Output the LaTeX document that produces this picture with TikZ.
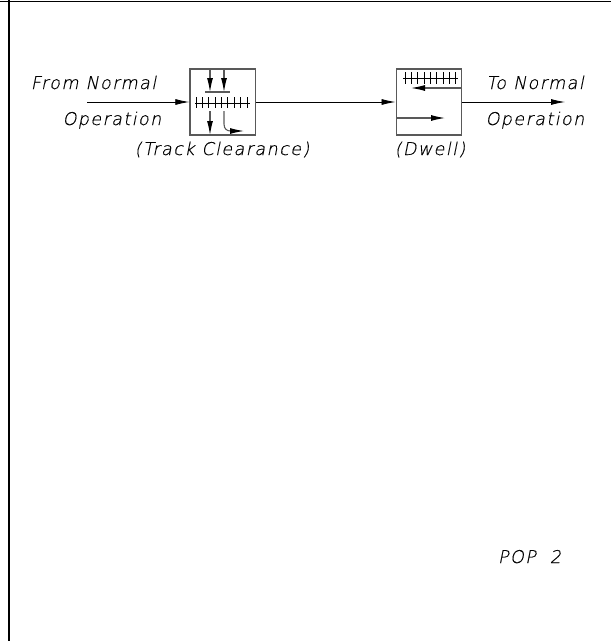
\documentclass[tikz,border=0pt]{standalone}
\usepackage{fontspec}
\setmainfont{Liberation Sans}
\newfontfamily\labelfont[LetterSpace=8,FakeSlant=0.2,FakeBold=0.35]{DejaVu Sans ExtraLight}
\usetikzlibrary{arrows.meta}

\begin{document}
\begin{tikzpicture}[x=.03cm,y=-.03cm,
    flow/.style={-{Latex[length=.42cm,width=.18cm]},line width=.7pt},
    inner/.style={-{Latex[length=.42cm,width=.18cm,color=black]},line width=.95pt,black!65},
    statebox/.style={draw=black!65,line width=1pt,minimum width=1.97cm,minimum height=1.98cm,inner sep=0pt},
    lab/.style={inner sep=0pt,font=\labelfont\fontsize{15}{16}\selectfont,anchor=base}]

    \useasboundingbox (0,0) rectangle (611,641);

    % Page frame
    \draw[line width=.9pt] (0,1.2) -- (611,1.2);
    \draw[line width=.9pt] (9,0) -- (9,641);

    % The two states
    \node[statebox] (clear) at (222.75,102) {};
    \node[statebox] (dwell) at (429,102) {};

    % Free ends of the main line
    \coordinate (start) at (87,102);
    \coordinate (finish) at (565,102);

    \draw[flow] (start) -- (clear);
    \draw[flow] (clear) -- (dwell);
    \draw[flow] (dwell) -- (finish);

    % Track ties
    \draw[line width=.7pt] (195,103.5) -- (250,103.5);
    \foreach \x in {196,202,208,215,221,227,234,240,247} {
        \draw[line width=.7pt] (\x,97) -- (\x,108);
    }
    \draw[line width=.7pt] (403,78) -- (458,78);
    \foreach \x in {405,411,417,424,430,436,443,449,455} {
        \draw[line width=.7pt] (\x,72) -- (\x,84);
    }

    % Movements inside the first box
    \draw[inner] (210,69) -- (210,92);
    \draw[inner] (224,69) -- (224,92);
    \draw[line width=.95pt,black!65] (205,92) -- (230,92);
    \draw[inner] (210,111) -- (210,135);
    \draw[inner] (224,111) -- (224,124) .. controls (224,129) and (227,131) .. (244,131);

    % Movements inside the second box
    \draw[inner] (462,88) -- (411,88);
    \draw[inner] (396,118) -- (445,118);

    % Labels
    \node[lab] (fromlab) at (93.5,89) {From Normal};
    \node[lab] (oplab) at (112,125) {Operation};
    \node[lab] (tolab) at (535,89) {To Normal};
    \node[lab] (oplabb) at (535,125) {Operation};
    \node[lab] (clearlab) at (222,155) {(Track Clearance)};
    \node[lab] (dwelllab) at (430,155) {(Dwell)};
    \node[lab] (poplab) at (529.5,563) {POP\ \ 2};
\end{tikzpicture}
\end{document}
